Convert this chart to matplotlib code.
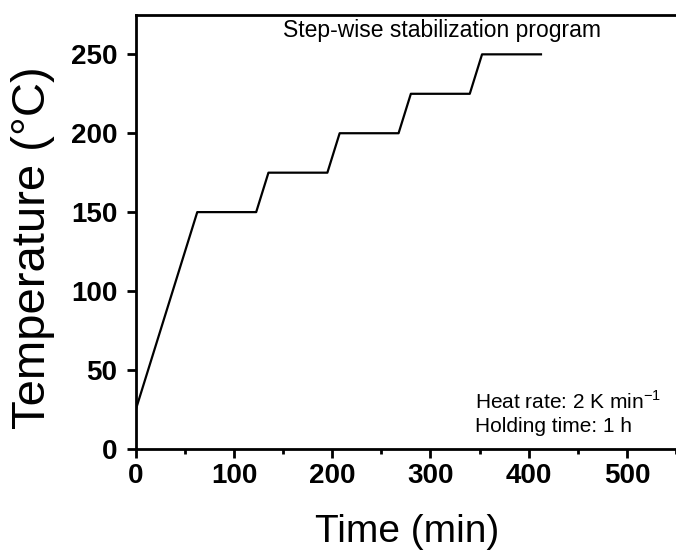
import numpy as np
import matplotlib
matplotlib.use('Agg')
import matplotlib.pyplot as plt
from matplotlib.ticker import MultipleLocator

# step-wise stabilization program: 2 K/min ramps, 1 h holds
time_min = [0, 62.5, 122.5, 135, 195, 207.5, 267.5, 280, 340, 352.5, 412.5]
temp_c = [25, 150, 150, 175, 175, 200, 200, 225, 225, 250, 250]
xticks = [0, 100, 200, 300, 400, 500]
yticks = [0, 50, 100, 150, 200, 250]

plt.rcParams['font.family'] = ['Liberation Sans', 'DejaVu Sans']
plt.rcParams['mathtext.fontset'] = 'custom'
plt.rcParams['mathtext.rm'] = 'Liberation Sans'

fig = plt.figure(figsize=(6.76, 5.52), dpi=100)
ax = fig.add_axes([0.201, 0.187, 0.799, 0.786])

ax.plot(time_min, temp_c, color='black', lw=1.6)

ax.set_xlim(0, 550)
ax.set_ylim(0, 275)
ax.set_xticks(xticks)
ax.set_yticks(yticks)
ax.xaxis.set_minor_locator(MultipleLocator(50))

for s in ['left', 'bottom', 'top']:
    ax.spines[s].set_linewidth(2)
ax.spines['right'].set_visible(False)

ax.tick_params(axis='both', which='major', direction='out', length=6.5, width=2,
               labelsize=20)
ax.tick_params(axis='y', which='major', pad=7)
ax.tick_params(axis='x', which='major', pad=4)
ax.tick_params(axis='x', which='minor', direction='out', length=3.5, width=2)
for lab in ax.get_xticklabels() + ax.get_yticklabels():
    lab.set_fontweight('bold')

ax.set_xlabel('Time (min)', fontsize=28, va='center')
ax.set_ylabel('Temperature (°C)', fontsize=34, va='center')
ax.xaxis.set_label_coords(0.502, -0.191)
ax.yaxis.set_label_coords(-0.19, 0.463)

ax.text(0.567, 0.965, 'Step-wise stabilization program', transform=ax.transAxes,
        ha='center', va='center', fontsize=16.5)
ax.text(0.628, 0.108, 'Heat rate: 2 K min$^{\\mathregular{-1}}$', transform=ax.transAxes,
        ha='left', va='center', fontsize=15)
ax.text(0.628, 0.051, 'Holding time: 1 h', transform=ax.transAxes,
        ha='left', va='center', fontsize=15)

fig.savefig('out.png', dpi=100)
